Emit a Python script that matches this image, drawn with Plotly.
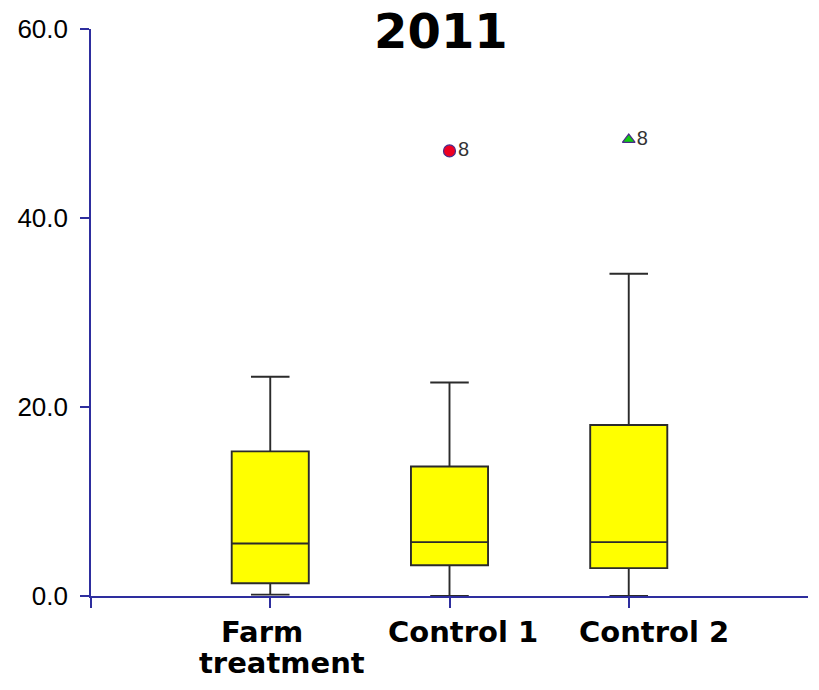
import plotly.graph_objects as go

# Group positions and labels (one entry per text line)
positions = [1, 2, 3]
groups = [["Farm", "treatment"], ["Control 1"], ["Control 2"]]

# Five-number summaries per group
lower_whisker = [0.15, 0.0, 0.0]
q1_vals = [1.35, 3.25, 2.95]
medians = [5.55, 5.7, 5.7]
q3_vals = [15.3, 13.7, 18.1]
upper_whisker = [23.2, 22.6, 34.1]

# Outliers (case number 8)
outlier_pos = [2, 3]
outlier_vals = [47.1, 48.3]
outlier_case = ["8", "8"]

AXIS_BLUE = "#2e2e9e"
FONT_TICK = "Liberation Sans, Arial, sans-serif"
FONT_BOLD = "DejaVu Sans, Verdana, sans-serif"

fig = go.Figure()

for i, pos in enumerate(positions):
    fig.add_trace(go.Box(
        x=[pos],
        q1=[q1_vals[i]],
        median=[medians[i]],
        q3=[q3_vals[i]],
        lowerfence=[lower_whisker[i]],
        upperfence=[upper_whisker[i]],
        width=0.43,
        whiskerwidth=0.5,
        fillcolor="#ffff00",
        line=dict(color="#2b2b2b", width=1.9),
        boxpoints=False,
        showlegend=False,
        hoverinfo="skip",
    ))

# Outlier markers: circle for Control 1, triangle for Control 2
symbols = ["circle", "triangle-up"]
fills = ["#ee0022", "#11cc11"]
sizes = [12, 11]
for i in range(len(outlier_pos)):
    fig.add_trace(go.Scatter(
        x=[outlier_pos[i]],
        y=[outlier_vals[i]],
        mode="markers+text",
        marker=dict(symbol=symbols[i], color=fills[i], size=sizes[i],
                    line=dict(color="#4a2a8a", width=1.2)),
        text=[outlier_case[i]],
        textposition="middle right",
        textfont=dict(family=FONT_TICK, size=20, color="#333333"),
        showlegend=False,
        hoverinfo="skip",
        cliponaxis=False,
    ))

# Category labels below the axis, one annotation per line
line_shifts = [-36, -67]
label_xshift = [[-8, 12], [13], [25]]
for pos, lines, shifts in zip(positions, groups, label_xshift):
    for k, line in enumerate(lines):
        fig.add_annotation(
            x=pos, xref="x",
            y=0, yref="paper",
            yanchor="middle",
            xshift=shifts[k],
            yshift=line_shifts[k],
            text=line,
            showarrow=False,
            font=dict(family=FONT_BOLD, size=29, color="black", weight="bold"),
        )

fig.update_layout(
    width=819,
    height=690,
    margin=dict(l=91, r=11, t=29, b=94),
    paper_bgcolor="white",
    plot_bgcolor="white",
    title=dict(
        text="2011",
        x=0.488,
        xref="paper",
        xanchor="center",
        y=0.955,
        yref="container",
        yanchor="middle",
        font=dict(family=FONT_BOLD, size=48, color="black", weight="bold"),
    ),
)

fig.update_xaxes(
    range=[0, 4],
    tickmode="array",
    tickvals=[0] + positions,
    showticklabels=False,
    ticks="outside",
    ticklen=10,
    tickwidth=1.5,
    tickcolor=AXIS_BLUE,
    showline=True,
    linecolor=AXIS_BLUE,
    linewidth=1.6,
    showgrid=False,
    zeroline=False,
)

fig.update_yaxes(
    range=[0, 60],
    tickmode="array",
    tickvals=[0, 20, 40, 60],
    tickformat=".1f",
    ticks="outside",
    ticklen=9,
    tickwidth=1.5,
    tickcolor=AXIS_BLUE,
    showline=True,
    linecolor=AXIS_BLUE,
    linewidth=1.6,
    showgrid=False,
    zeroline=False,
    ticklabelstandoff=7,
    tickfont=dict(family=FONT_TICK, size=26, color="black"),
)

fig.write_html("out.html")
